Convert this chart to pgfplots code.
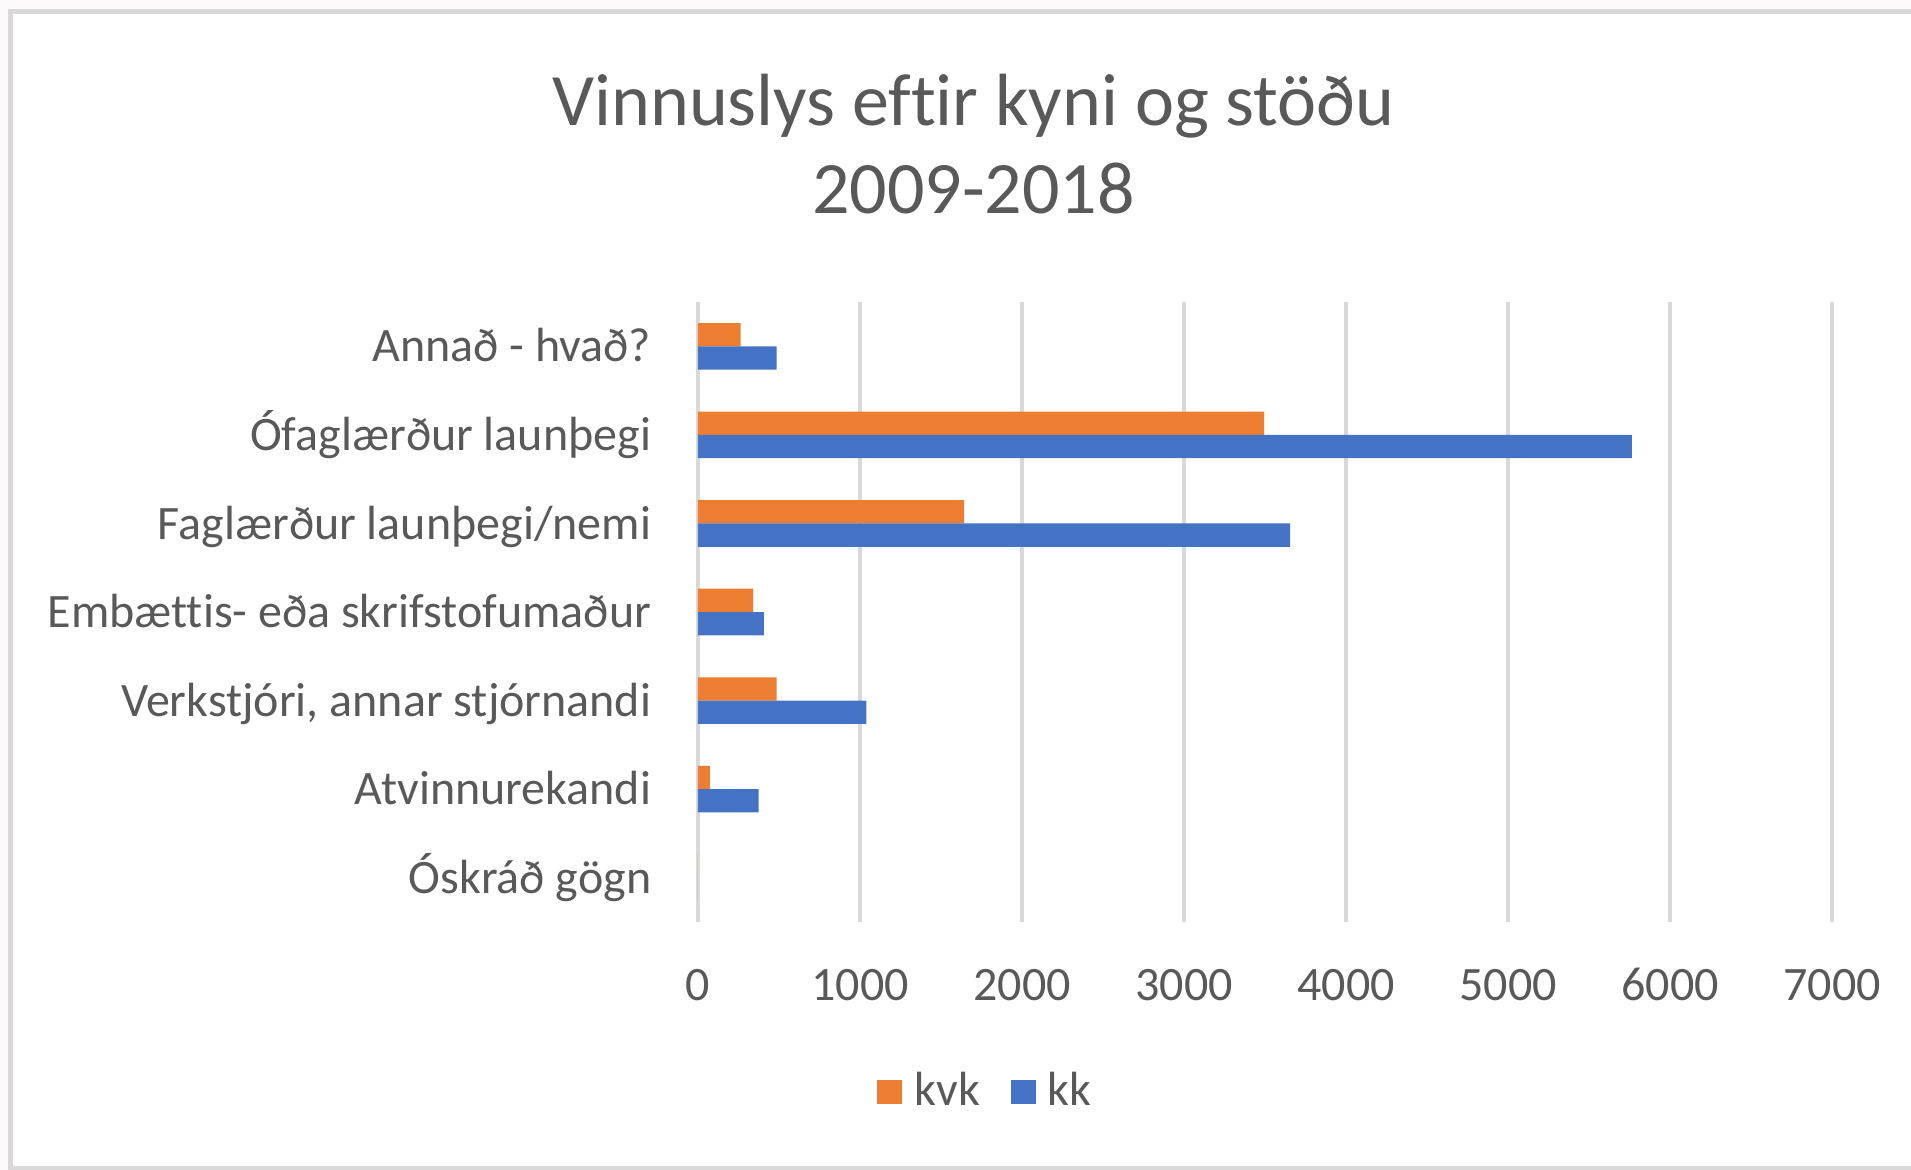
\documentclass[border=0pt]{standalone}
\usepackage{fontspec}
\setmainfont{Carlito}[Ligatures=NoCommon]
\usepackage{pgfplots}
\pgfplotsset{compat=1.18}
\definecolor{cOrange}{HTML}{ED7D31}
\definecolor{cBlue}{HTML}{4472C4}
\definecolor{cGrid}{HTML}{D9D9D9}
\definecolor{cText}{HTML}{595959}
\definecolor{cBorder}{HTML}{D9D9D9}
\definecolor{cOut}{HTML}{FCFAFA}
\begin{document}
\begin{tikzpicture}
\useasboundingbox (0,0) rectangle (477.75pt,-292.5pt);
\fill[cOut] (0,0) rectangle (477.75pt,-292.5pt);
\fill[white] (2.6pt,-2.9pt) rectangle (477.75pt,-292pt);
\draw[cBorder, line width=1.2pt] (478pt,-2.9pt) -- (2.6pt,-2.9pt) -- (2.6pt,-292pt) -- (478pt,-292pt);
\node[anchor=base, text=cText, font=\fontsize{18.5}{22}\selectfont, inner sep=0pt] at (243.4pt,-31.25pt) {Vinnuslys eftir kyni og stöðu};
\node[anchor=base, text=cText, font=\fontsize{18.5}{22}\selectfont, inner sep=0pt] at (243.4pt,-53.3pt) {2009-2018};
\begin{axis}[
  at={(174.5pt,-230.5pt)}, anchor=south west,
  scale only axis, width=283.5pt, height=155pt,
  xbar, bar width=0.263,
  xmin=0, xmax=7000, ymin=-0.5, ymax=6.5,
  y dir=reverse,
  xtick={0,1000,...,7000},
  ytick={0,1,2,3,4,5,6},
  yticklabels={Annað - hvað?, Ófaglærður launþegi, Faglærður launþegi/nemi, Embættis- eða skrifstofumaður, {Verkstjóri, annar stjórnandi}, Atvinnurekandi, Óskráð gögn},
  axis line style={draw=none},
  major tick length=0pt,
  xmajorgrids, major grid style={cGrid, line width=0.8pt},
  /pgf/number format/1000 sep={},
  /pgf/number format/assume math mode=true,
  ticklabel style={text=cText, font=\fontsize{12}{14.4}\selectfont, inner sep=0pt},
  xticklabel style={anchor=base, yshift=-19.5pt},
  yticklabel style={anchor=base east, xshift=-11.5pt, yshift=-3.9pt},
  legend style={draw=none, fill=none, legend columns=-1,
    at={(0.2580,-0.2742)}, anchor=center,
    font=\fontsize{12}{14.4}\selectfont, text=cText,
    /tikz/every even column/.append style={column sep=4.8pt},
    nodes={inner sep=0pt, inner xsep=3pt}},
  legend image code/.code={\fill[#1] (0pt,-3.1pt) rectangle (6.25pt,3.1pt);},
]
\addplot[fill=cOrange, draw=none, bar shift=-0.1315] coordinates {
(263,0) (3494,1) (1642,2) (341,3) (485,4) (74,5) (0,6)};
\addplot[fill=cBlue, draw=none, bar shift=0.1315] coordinates {
(485,0) (5765,1) (3655,2) (407,3) (1040,4) (374,5) (0,6)};
\legend{kvk, kk}
\end{axis}
\end{tikzpicture}
\end{document}
